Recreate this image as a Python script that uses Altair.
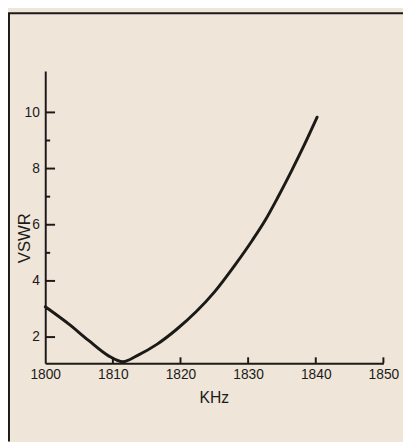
import altair as alt
import pandas as pd

# Curve
khz = [1800, 1803.5, 1806.4, 1809.3, 1811.5, 1813.6, 1816.5, 1819.4, 1822.3, 1825.0,
       1828.1, 1830.6, 1832.5, 1834.4, 1836.4, 1838.3, 1840.2]
vswr = [3.08, 2.46, 1.88, 1.34, 1.12, 1.34, 1.74, 2.27, 2.90, 3.60,
        4.58, 5.44, 6.15, 6.98, 7.91, 8.84, 9.83]

x_ticks = [1800, 1810, 1820, 1830, 1840, 1850]
x_inner_ticks = [1810, 1820, 1830, 1840, 1850]
y_major = [2, 4, 6, 8, 10]
y_minor = [3, 5, 7, 9]

W, H = 345, 298
INK = "#1c1a18"
BG = "#efe5d8"
FONT = "Liberation Sans"

curve_df = pd.DataFrame({"khz": khz, "vswr": vswr})

xs = alt.Scale(domain=[1800, 1850], nice=False, zero=False)
ys = alt.Scale(domain=[1.07, 11.47], nice=False, zero=False)

curve = alt.Chart(curve_df).mark_line(
    color=INK, strokeWidth=3, interpolate="monotone", clip=False, strokeCap="round"
).encode(
    x=alt.X("khz:Q", scale=xs, axis=alt.Axis(
        values=x_ticks, format="d", title="KHz", grid=False, ticks=False,
        domainColor=INK, domainWidth=2, labelFont=FONT, labelFontSize=14,
        labelColor=INK, labelPadding=5, titleFont=FONT, titleFontSize=16,
        titleFontWeight="normal", titleColor=INK, titleX=172, titleY=35,
        titleAnchor="start", titleAlign="center", titleBaseline="middle",
        labelFlush=False)),
    y=alt.Y("vswr:Q", scale=ys, axis=alt.Axis(
        values=y_major, title="VSWR", grid=False, ticks=False,
        domainColor=INK, domainWidth=2, labelFont=FONT, labelFontSize=14,
        labelColor=INK, labelPadding=6, titleFont=FONT, titleFontSize=17,
        titleFontWeight="normal", titleColor=INK, titleAngle=270,
        titleX=-21, titleY=170, titleAlign="center", titleBaseline="middle",
        titleAnchor="start")),
)

major = alt.Chart(pd.DataFrame({"v": y_major})).mark_rule(color=INK, strokeWidth=2).encode(
    y=alt.Y("v:Q", scale=ys), x=alt.value(0), x2=alt.value(10))
minor = alt.Chart(pd.DataFrame({"v": y_minor})).mark_rule(color=INK, strokeWidth=2).encode(
    y=alt.Y("v:Q", scale=ys), x=alt.value(0), x2=alt.value(5))
xt = alt.Chart(pd.DataFrame({"k": x_inner_ticks})).mark_rule(color=INK, strokeWidth=2).encode(
    x=alt.X("k:Q", scale=xs), y=alt.value(H), y2=alt.value(H - 6))

frame_left = alt.Chart(pd.DataFrame({"a": [0]})).mark_rule(color=INK, strokeWidth=2).encode(
    x=alt.value(-37), y=alt.value(-59), y2=alt.value(H + 80))
frame_top = alt.Chart(pd.DataFrame({"a": [0]})).mark_rule(color=INK, strokeWidth=2).encode(
    y=alt.value(-59), x=alt.value(-38), x2=alt.value(W + 25))

chart = alt.layer(curve, major, minor, xt, frame_left, frame_top).properties(
    width=W, height=H,
    autosize=alt.AutoSizeParams(type="none"),
    padding={"left": 38, "top": 60, "right": 20, "bottom": 76},
    background=BG,
).configure_view(stroke=None)

chart.save("out.html", embed_options={"renderer": "svg", "actions": False})
